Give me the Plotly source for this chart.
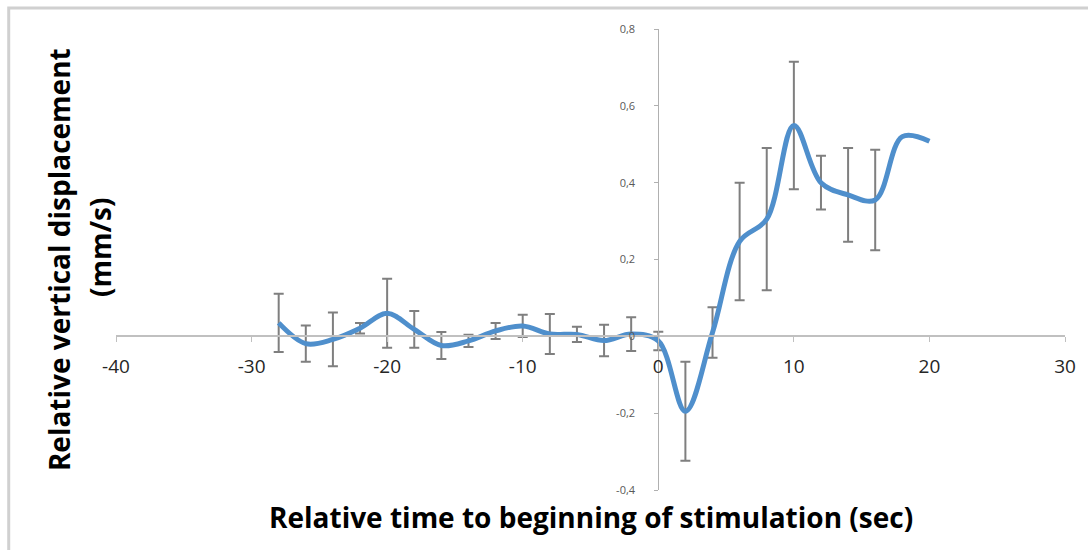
import plotly.graph_objects as go

# ---- data ----
time_sec = [-28, -26, -24, -22, -20, -18, -16, -14, -12, -10, -8, -6, -4, -2,
            0, 2, 4, 6, 8, 10, 12, 14, 16, 18, 20]
displacement = [0.035, -0.019, -0.008, 0.021, 0.060, 0.018, -0.024, -0.012, 0.014,
                0.027, 0.006, 0.005, -0.011, 0.006, -0.012, -0.195, 0.010, 0.247,
                0.305, 0.549, 0.400, 0.368, 0.355, 0.520, 0.508]
error = [0.076, 0.047, 0.070, 0.0135, 0.090, 0.048, 0.035, 0.016, 0.021, 0.029,
         0.052, 0.020, 0.041, 0.044, 0.024, 0.129, 0.066, 0.153, 0.185, 0.166,
         0.070, 0.122, 0.131, None, None]

x_tickvals = [-40, -30, -20, -10, 0, 10, 20, 30]
x_ticktext = ["-40", "-30", "-20", "-10", "0", "10", "20", "30"]
y_tickvals = [-0.4, -0.2, 0, 0.2, 0.4, 0.6, 0.8]
y_ticktext = ["-0,4", "-0,2", "0", "0,2", "0,4", "0,6", "0,8"]

x_title = "Relative time to beginning of stimulation (sec)"
y_title_line1 = "Relative vertical displacement"
y_title_line2 = "(mm/s)"

# ---- layout geometry ----
W, H = 1088, 550
L, R, T, B = 116, 21, 29, 60
pw = W - L - R
ph = H - T - B

def px_x(p):
    return (p - L) / pw

def px_y(p):
    return (H - B - p) / ph

err_x = [t for t, e in zip(time_sec, error) if e is not None]
err_y = [v for v, e in zip(displacement, error) if e is not None]
err_v = [e for e in error if e is not None]

fig = go.Figure()
fig.add_trace(go.Scatter(
    x=err_x, y=err_y, mode="markers",
    marker=dict(size=1, color="rgba(0,0,0,0)"),
    error_y=dict(type="data", array=err_v, visible=True,
                 color="#7f7f7f", thickness=2, width=5),
    hoverinfo="skip", showlegend=False,
))
fig.add_trace(go.Scatter(
    x=time_sec, y=displacement, mode="lines",
    line=dict(color="#4F8FCC", width=5, shape="spline", smoothing=1),
    showlegend=False,
))

xr = [-40, 30]
yr = [-0.4, 0.8]
xt_font = dict(size=28, color="#000000", family="Open Sans, sans-serif", weight="bold")
yt_font = dict(size=28, color="#000000", family="Open Sans, sans-serif", weight="bold")

fig.update_layout(
    width=W, height=H,
    margin=dict(l=L, r=R, t=T, b=B),
    paper_bgcolor="white", plot_bgcolor="white",
    font=dict(family="Open Sans, sans-serif"),
    xaxis=dict(
        range=xr, tickvals=x_tickvals, ticktext=x_ticktext,
        showgrid=False, zeroline=False,
        showline=True, linecolor="#c0c0c0", linewidth=2,
        ticks="outside", ticklen=5, tickcolor="#c0c0c0", tickwidth=1,
        tickfont=dict(size=19, color="#262626"),
        ticklabelstandoff=8,
        anchor="free", position=(0 - yr[0]) / (yr[1] - yr[0]),
    ),
    yaxis=dict(
        range=yr, tickvals=y_tickvals, ticktext=y_ticktext,
        showgrid=False, zeroline=False,
        showline=True, linecolor="#b0b0b0", linewidth=1,
        ticks="outside", ticklen=4, tickcolor="#b0b0b0", tickwidth=1,
        tickfont=dict(size=11, color="#595959"),
        ticklabelstandoff=17,
        anchor="free", position=(0 - xr[0]) / (xr[1] - xr[0]),
    ),
    annotations=[
        dict(text=x_title, xref="paper", yref="paper",
             x=px_x(592), y=px_y(517), showarrow=False,
             font=xt_font, xanchor="center", yanchor="middle"),
        dict(text=y_title_line1, xref="paper", yref="paper",
             x=px_x(59), y=px_y(260), showarrow=False, textangle=-90,
             font=yt_font, xanchor="center", yanchor="middle"),
        dict(text=y_title_line2, xref="paper", yref="paper",
             x=px_x(100), y=px_y(248), showarrow=False, textangle=-90,
             font=yt_font, xanchor="center", yanchor="middle"),
    ],
    shapes=[
        dict(type="rect", xref="paper", yref="paper",
             x0=px_x(8.5), x1=px_x(1100), y0=px_y(560), y1=px_y(8),
             line=dict(color="#d0d0d0", width=3), layer="below"),
    ],
)

fig.write_html("out.html", config={"displayModeBar": False},
               post_script="document.body.style.margin='0px';")
